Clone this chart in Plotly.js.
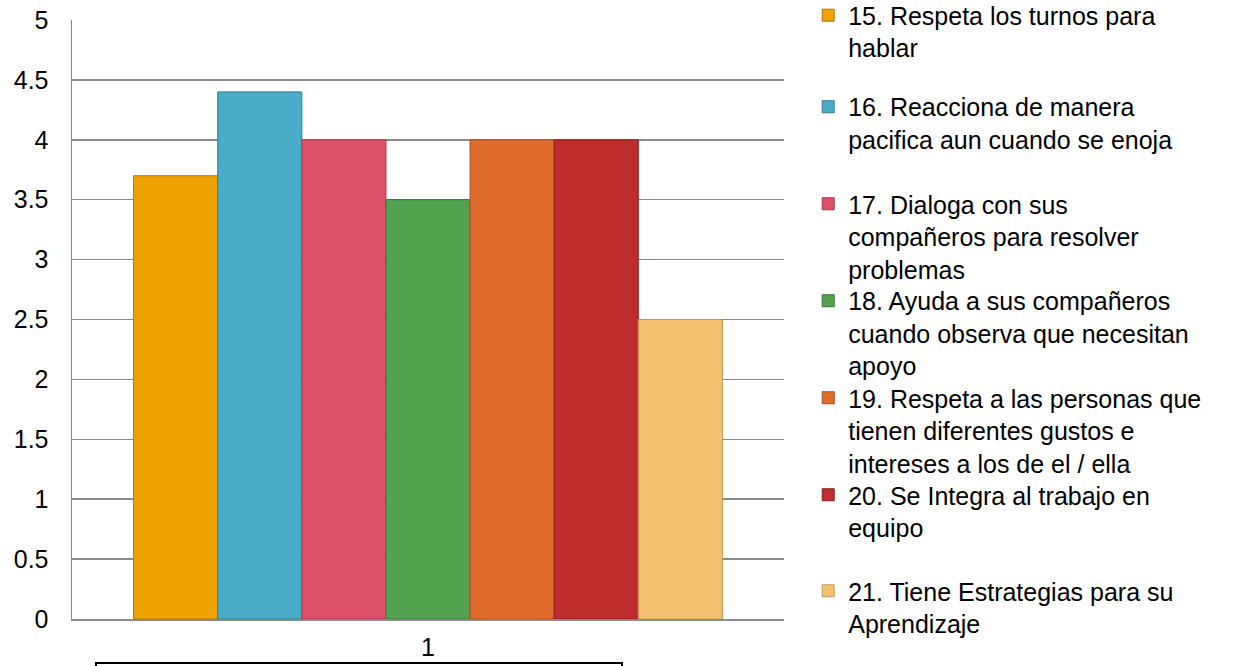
<!DOCTYPE html>
<html>
<head>
<meta charset="utf-8">
<script src="https://cdn.plot.ly/plotly-3.0.1.min.js"></script>
<style>html,body{margin:0;padding:0;background:#fff;}#chart{width:1238px;height:666px;}</style>
</head>
<body>
<div id="chart"></div>
<script>
// ---- data ----
var category = ['1'];
var seriesNames = [
  '15. Respeta los turnos para<br>hablar',
  '16. Reacciona de manera<br>pacifica aun cuando se enoja',
  '17. Dialoga con sus<br>compañeros para resolver<br>problemas',
  '18. Ayuda a sus compañeros<br>cuando observa que necesitan<br>apoyo',
  '19. Respeta a las personas que<br>tienen diferentes gustos e<br>intereses a los de el / ella',
  '20. Se Integra al trabajo en<br>equipo',
  '21. Tiene Estrategias para su<br>Aprendizaje'
];
var seriesValues = [3.7, 4.4, 4.0, 3.5, 4.0, 4.0, 2.5];
var yTickVals = [0, 0.5, 1, 1.5, 2, 2.5, 3, 3.5, 4, 4.5, 5];
var yTickText = ['0', '0.5', '1', '1.5', '2', '2.5', '3', '3.5', '4', '4.5', '5'];

// ---- styling ----
var fills = ['#EEA300', '#4AACC6', '#DC5068', '#53A24E', '#E06C2C', '#BE2C2E', '#F5C272'];
var edges = ['#B07800', '#2F7F95', '#A8384C', '#3A7636', '#A84E1E', '#8A1E20', '#C39550'];
var legendTops = [1.0460, 0.8932, 0.7312, 0.5693, 0.4073, 0.2454, 0.0851];
var FONT = 'Liberation Sans, Arial, sans-serif';

var traces = seriesNames.map(function (name, i) {
  return {
    type: 'bar',
    name: name,
    x: category,
    y: [seriesValues[i]],
    legend: i === 0 ? 'legend' : 'legend' + (i + 1),
    marker: { color: fills[i], line: { color: edges[i], width: 1 } },
    hoverinfo: 'y+name'
  };
});

var layout = {
  width: 1238,
  height: 666,
  margin: { l: 72, r: 454, t: 20, b: 47, pad: 0, autoexpand: false },
  paper_bgcolor: '#ffffff',
  plot_bgcolor: '#ffffff',
  font: { family: FONT, size: 25, color: '#000000' },
  barmode: 'group',
  bargap: 0.173,
  bargroupgap: 0,
  showlegend: true,
  xaxis: {
    type: 'category',
    showgrid: false,
    showline: true,
    linecolor: '#8a8a8a',
    linewidth: 1.5,
    ticks: '',
    ticklabelstandoff: 5,
    tickfont: { family: FONT, size: 25, color: '#000' },
    zeroline: false,
    fixedrange: true
  },
  yaxis: {
    range: [0, 5],
    tickvals: yTickVals,
    ticktext: yTickText,
    showgrid: true,
    gridcolor: '#8a8a8a',
    gridwidth: 1.5,
    showline: true,
    linecolor: '#8a8a8a',
    linewidth: 1.5,
    ticks: '',
    ticklabelstandoff: 17,
    tickfont: { family: FONT, size: 25, color: '#000' },
    zeroline: false,
    fixedrange: true
  },
  shapes: [{
    type: 'rect', xref: 'paper', yref: 'paper',
    x0: 0.0337, x1: 0.7725, y0: -0.0735, y1: -0.2,
    line: { color: '#000000', width: 2 }, fillcolor: 'rgba(0,0,0,0)'
  }]
};

legendTops.forEach(function (top, i) {
  var key = i === 0 ? 'legend' : 'legend' + (i + 1);
  layout[key] = {
    x: 1.034, xanchor: 'left',
    y: top, yanchor: 'top',
    valign: 'top',
    bgcolor: 'rgba(0,0,0,0)',
    borderwidth: 0,
    font: { family: FONT, size: 25, color: '#000' },
    itemclick: false, itemdoubleclick: false
  };
});

Plotly.newPlot('chart', traces, layout, { displayModeBar: false, staticPlot: true });
</script>
</body>
</html>
